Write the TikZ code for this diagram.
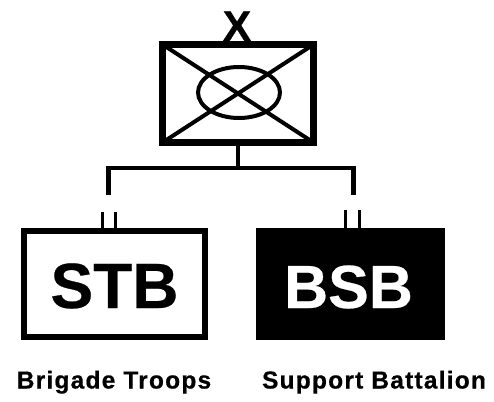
\documentclass[tikz,border=0pt]{standalone}
\usetikzlibrary{shapes.geometric}
\usepackage{fontspec}
\setmainfont{Liberation Sans}[Ligatures=TeX]
\newfontfamily\capfont{Liberation Sans Bold}[LetterSpace=5,FakeBold=0.6]
\newfontfamily\bigfont{Liberation Sans Bold}[FakeBold=0.4]
\begin{document}
\begin{tikzpicture}[x=1pt,y=-1pt,
  conn/.style={draw=black,line width=4.5pt},
  tick/.style={draw=black,line width=3pt},
  capt/.style={font=\capfont\fontsize{24.5}{24.5}\selectfont,inner sep=0pt,anchor=base}]
\useasboundingbox (0,0) rectangle (494,401);
\node[draw=black,line width=7pt,minimum width=151pt,minimum height=98pt,inner sep=0pt,outer sep=0pt] (hq) at (238,93.5) {};
\draw[line width=4pt] (hq.north west) -- (hq.south east) (hq.north east) -- (hq.south west);
\node[ellipse,draw=black,line width=4pt,minimum width=82pt,minimum height=51pt,inner sep=0pt] (core) at (239,92.5) {};
\node[font=\bigfont\fontsize{43}{43}\selectfont,inner sep=0pt,anchor=base] (x) at (237,41) {X};
\node[draw=black,line width=6pt,minimum width=181pt,minimum height=106pt,inner sep=0pt,outer sep=0pt] (stb) at (114.5,284) {};
\node[font=\bigfont\fontsize{64}{64}\selectfont,inner sep=0pt,anchor=base] (stbt) at (114.5,308) {STB};
\node[draw=black,fill=black,minimum width=188pt,minimum height=111pt,inner sep=0pt,line width=0pt,outer sep=0pt] (bsb) at (350,283.5) {};
\node[font=\bigfont\fontsize{61}{61}\selectfont,text=white,inner sep=0pt,anchor=base] (bsbt) at (348.5,308) {BSB};
\coordinate (bar) at (238,168);
\coordinate (ll) at (108.5,195);
\coordinate (rr) at (353.5,195);
\draw[conn] (hq.south) -- (bar);
\draw[conn,line join=miter] (ll) -- (ll |- bar) -- (rr |- bar) -- (rr);
\coordinate (t1) at (102,212);
\coordinate (t2) at (115,212);
\coordinate (t3) at (345,210);
\coordinate (t4) at (359,210);
\draw[tick] (t1) -- (t1 |- stb.north) (t2) -- (t2 |- stb.north);
\draw[tick] (t3) -- (t3 |- bsb.north) (t4) -- (t4 |- bsb.north);
\node[capt] (l1) at (114,388.5) {Brigade Troops};
\node[capt] (l2) at (374,388.5) {Support Battalion};
\end{tikzpicture}
\end{document}
